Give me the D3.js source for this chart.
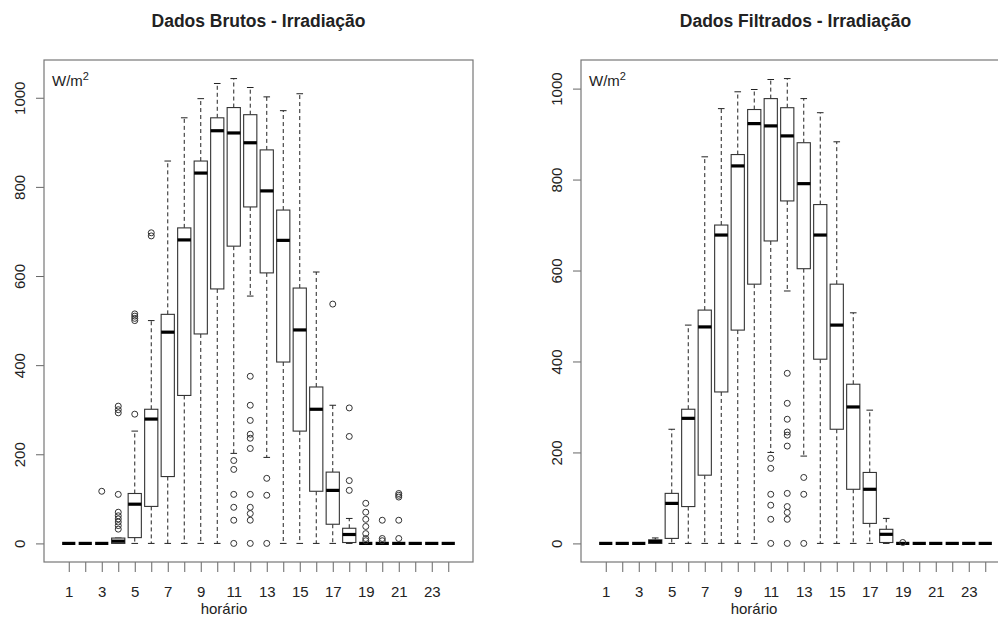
<!DOCTYPE html>
<html>
<head>
<meta charset="utf-8">
<script src="https://cdn.jsdelivr.net/npm/d3@7"></script>
<style>
  body { margin: 0; background: white; }
  text { font-family: "Liberation Sans", Arial, sans-serif; fill: #222; }
</style>
</head>
<body>
<script>

// hours of the day (x categories)
const hours = [1,2,3,4,5,6,7,8,9,10,11,12,13,14,15,16,17,18,19,20,21,22,23,24];
const yTicks = [0, 200, 400, 600, 800, 1000];

// raw data - box stats per hour
const brutosLow  = [0,0,0,0,0,0,0,0,0,0,202,555,193,0,0,0,0,0,0,0,0,0,0,0];
const brutosQ1   = [0,0,0,0,13,83,150,332,470,571,667,755,607,407,252,117,43,2,0,0,0,0,0,0];
const brutosMed  = [0,0,0,5,88,279,474,681,831,926,921,899,791,680,479,301,119,20,0,0,0,0,0,0];
const brutosQ3   = [0,0,0,12,112,301,514,708,858,955,978,962,883,748,573,351,160,34,0,0,0,0,0,0];
const brutosHigh = [0,0,0,12,252,500,858,955,998,1032,1043,1023,1002,971,1009,609,310,56,0,0,0,0,0,0];
const brutosOut  = [
  [], [], [117],
  [308,300,293,110,70,62,55,48,40,32],
  [290,500,505,510,515],
  [690,697],
  [], [], [], [],
  [186,166,110,81,52,0],
  [375,310,276,245,236,213,110,81,67,52,0],
  [146,108,0],
  [], [], [],
  [537],
  [304,240,141,119],
  [90,70,54,38,22,11,6],
  [52,11,6],
  [112,108,104,52,11],
  [], [], []
];

// filtered data - box stats per hour
const filtLow  = [0,0,0,0,0,0,0,0,0,0,200,555,192,0,0,0,0,0,0,0,0,0,0,0];
const filtQ1   = [0,0,0,0,11,81,150,333,469,570,665,753,604,405,251,119,44,2,0,0,0,0,0,0];
const filtMed  = [0,0,0,4,88,275,476,678,830,923,918,896,791,678,480,300,119,20,0,0,0,0,0,0];
const filtQ3   = [0,0,0,8,110,295,513,700,855,954,978,958,881,745,570,350,156,31,0,0,0,0,0,0];
const filtHigh = [0,0,0,12,251,480,850,956,993,998,1020,1022,978,947,883,507,293,55,0,0,0,0,0,0];
const filtOut  = [
  [], [], [], [], [], [], [], [], [], [],
  [187,165,108,84,53,0],
  [374,308,273,245,238,214,110,81,68,53,0],
  [145,108,0],
  [], [], [], [], [],
  [2],
  [], [], [], [], []
];

let width = 998, height = 618;
let plotTop = 60, plotBottom = 562, panelW = 429;

let svg = d3.select('body')
  .append('svg')
  .attr('width', width)
  .attr('height', height)
  .style('background', 'white');

function drawPanel(p) {
  let g = svg.append('g');

  let maxV = d3.max([...p.high, ...p.out.flat()]);
  let ext = maxV * 0.04;

  let x = d3.scaleLinear()
    .domain([-0.5, 25.5])
    .range([p.left, p.left + panelW]);

  let y = d3.scaleLinear()
    .domain([-ext, maxV + ext])
    .range([plotBottom, plotTop]);

  let boxW = (x(2) - x(1)) * 0.8;
  let half = boxW / 2;

  // y axis
  let yAxis = g.append('g')
    .attr('transform', `translate(${p.left}, 0)`)
    .call(d3.axisLeft(y).tickValues(yTicks).tickSize(8).tickFormat(d3.format('d')));
  yAxis.select('.domain').remove();
  yAxis.selectAll('line').attr('stroke', '#666');
  yAxis.selectAll('text')
    .attr('x', 0).attr('dy', 0)
    .attr('transform', 'translate(-19,0) rotate(-90)')
    .style('text-anchor', 'middle')
    .style('font-size', '15px')
    .style('font-family', '"Liberation Sans", Arial, sans-serif')
    .attr('fill', '#222');

  // x axis
  let xAxis = g.append('g')
    .attr('transform', `translate(0, ${plotBottom})`)
    .call(d3.axisBottom(x).tickValues(hours).tickSize(10)
      .tickFormat(d => d % 2 === 1 ? d : ''));
  xAxis.select('.domain').remove();
  xAxis.selectAll('line').attr('stroke', '#666');
  xAxis.selectAll('text')
    .attr('y', 24)
    .style('font-size', '15px')
    .style('font-family', '"Liberation Sans", Arial, sans-serif')
    .attr('fill', '#222');

  // frame
  g.append('rect')
    .attr('x', p.left)
    .attr('y', plotTop)
    .attr('width', panelW)
    .attr('height', plotBottom - plotTop)
    .attr('fill', 'none')
    .attr('stroke', '#777')
    .attr('stroke-width', 1.2);

  // boxes
  hours.forEach((h, i) => {
    let cx = x(h);

    // whiskers
    g.append('line')
      .attr('x1', cx).attr('x2', cx)
      .attr('y1', y(p.q3[i])).attr('y2', y(p.high[i]))
      .attr('stroke', '#222').attr('stroke-dasharray', '4,3');
    g.append('line')
      .attr('x1', cx).attr('x2', cx)
      .attr('y1', y(p.q1[i])).attr('y2', y(p.low[i]))
      .attr('stroke', '#222').attr('stroke-dasharray', '4,3');

    // staples
    [p.high[i], p.low[i]].forEach(v => {
      g.append('line')
        .attr('x1', cx - half / 2).attr('x2', cx + half / 2)
        .attr('y1', y(v)).attr('y2', y(v))
        .attr('stroke', '#222');
    });

    // box
    g.append('rect')
      .attr('x', cx - half)
      .attr('y', y(p.q3[i]))
      .attr('width', boxW)
      .attr('height', y(p.q1[i]) - y(p.q3[i]))
      .attr('fill', 'white')
      .attr('stroke', '#333')
      .attr('stroke-width', 1.1);

    // median
    g.append('line')
      .attr('x1', cx - half).attr('x2', cx + half)
      .attr('y1', y(p.med[i])).attr('y2', y(p.med[i]))
      .attr('stroke', 'black')
      .attr('stroke-width', 3.2);

    // outliers
    p.out[i].forEach(v => {
      g.append('circle')
        .attr('cx', cx)
        .attr('cy', y(v))
        .attr('r', 3)
        .attr('fill', 'none')
        .attr('stroke', '#333');
    });
  });

  // labels
  g.append('text')
    .attr('x', p.left + panelW / 2)
    .attr('y', 27)
    .text(p.title)
    .style('text-anchor', 'middle')
    .style('font-size', '17.5px')
    .style('font-weight', 'bold');

  let unit = g.append('text')
    .attr('x', p.left + 8)
    .attr('y', 86)
    .style('font-size', '15px');
  unit.append('tspan').text('W/m');
  unit.append('tspan').text('2').attr('dy', -6).style('font-size', '11px');

  g.append('text')
    .attr('x', p.labelX)
    .attr('y', 614)
    .text('horário')
    .style('text-anchor', 'middle')
    .style('font-size', '15px');
}

drawPanel({
  title: 'Dados Brutos - Irradiação',
  left: 44, labelX: 224,
  low: brutosLow, q1: brutosQ1, med: brutosMed, q3: brutosQ3, high: brutosHigh, out: brutosOut
});

drawPanel({
  title: 'Dados Filtrados - Irradiação',
  left: 581, labelX: 754,
  low: filtLow, q1: filtQ1, med: filtMed, q3: filtQ3, high: filtHigh, out: filtOut
});

</script>
</body>
</html>
